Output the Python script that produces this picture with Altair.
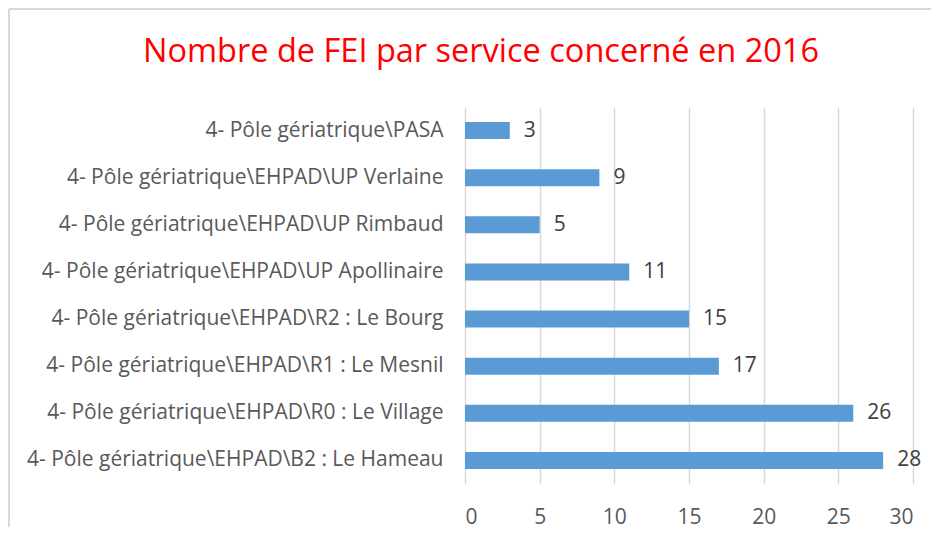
import altair as alt
import pandas as pd

services = [
    "4- Pôle gériatrique\\PASA",
    "4- Pôle gériatrique\\EHPAD\\UP Verlaine",
    "4- Pôle gériatrique\\EHPAD\\UP Rimbaud",
    "4- Pôle gériatrique\\EHPAD\\UP Apollinaire",
    "4- Pôle gériatrique\\EHPAD\\R2 : Le Bourg",
    "4- Pôle gériatrique\\EHPAD\\R1 : Le Mesnil",
    "4- Pôle gériatrique\\EHPAD\\R0 : Le Village",
    "4- Pôle gériatrique\\EHPAD\\B2 : Le Hameau",
]
counts = [3, 9, 5, 11, 15, 17, 26, 28]
x_ticks = [0, 5, 10, 15, 20, 25, 30]
title_text = "Nombre de FEI par service concerné en 2016"

df = pd.DataFrame({"service": services, "n": counts})

FONT = "Open Sans"

y = alt.Y("service:N", sort=services, title=None,
          scale=alt.Scale(paddingInner=0.64, paddingOuter=0.32),
          axis=alt.Axis(labelFont=FONT, labelFontSize=21, labelColor="#595959",
                        labelPadding=22, ticks=False, domain=False, labelLimit=600))
x = alt.X("n:Q", title=None,
          scale=alt.Scale(domain=[0, 30], nice=False),
          axis=alt.Axis(values=x_ticks, labelFont=FONT, labelFontSize=21,
                        labelColor="#595959", labelPadding=22, ticks=False,
                        domain=False, grid=True, gridColor="#D9D9D9", gridWidth=1.5))

bars = alt.Chart(df).mark_bar(color="#5B9BD5").encode(x=x, y=y)
labels = alt.Chart(df).mark_text(align="left", baseline="middle", dx=14, font=FONT, fontSize=21,
                                 color="#404040").encode(x="n:Q", y=alt.Y("service:N", sort=services), text="n:Q")

title = alt.Chart(pd.DataFrame({"t": [title_text]})).mark_text(
    font=FONT, fontSize=32.5, color="#FF0000", align="center", baseline="middle"
).encode(x=alt.value(16), y=alt.value(-55), text="t:N")

border_left = alt.Chart(df).mark_rule(color="#D9D9D9", strokeWidth=1.5, clip=False).encode(
    x=alt.value(-456), y=alt.value(-98), y2=alt.value(420))
border_top = alt.Chart(df).mark_rule(color="#D9D9D9", strokeWidth=1.5, clip=False).encode(
    x=alt.value(-456), x2=alt.value(466), y=alt.value(-98), y2=alt.value(-98))

chart = alt.layer(bars, labels, title, border_left, border_top).properties(
    width=448, height=377,
    autosize=alt.AutoSizeParams(type="none"),
    padding={"left": 457, "top": 99, "right": 20, "bottom": 50},
).configure_view(stroke=None)

chart.save("out.html", embed_options={"renderer": "svg", "actions": False})
